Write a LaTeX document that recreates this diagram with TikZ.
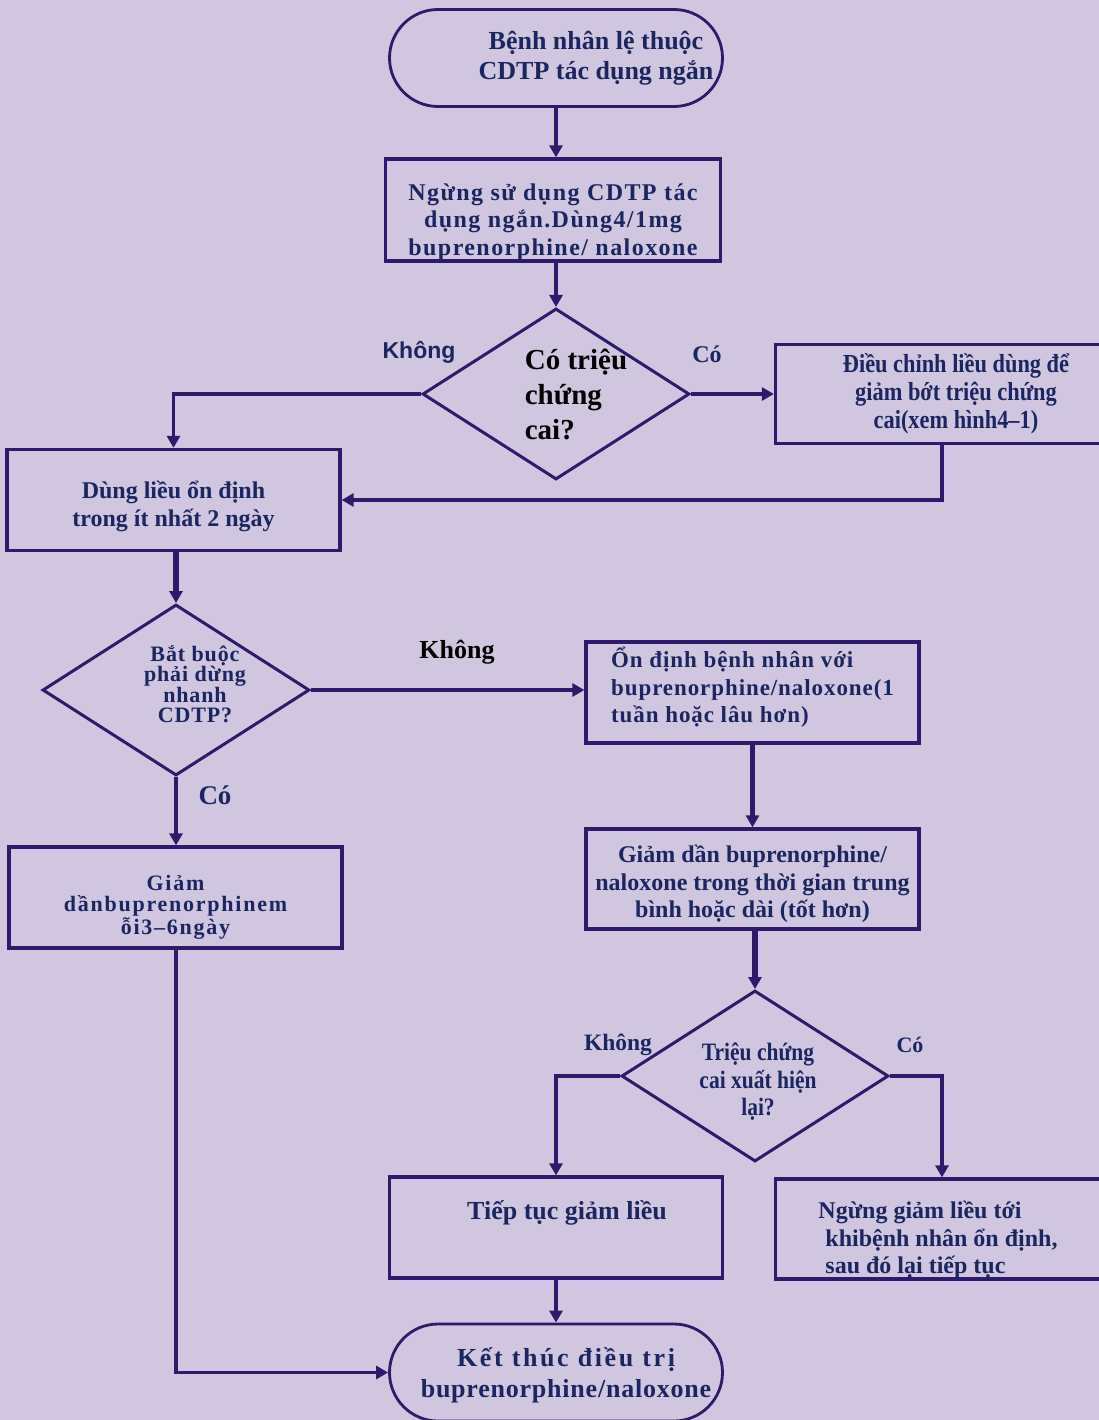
\documentclass[tikz,border=0pt]{standalone}
\usepackage{fontspec}
\setmainfont{Liberation Serif}
\newfontfamily\narrowfont[FakeStretch=0.86]{Liberation Serif}
\newfontfamily\labelsans{Liberation Sans}
\usepackage{xcolor}
\usetikzlibrary{shapes.geometric, shapes.misc, arrows.meta, positioning, calc}

\definecolor{bgpurple}{HTML}{D0C6DF}
\definecolor{linepurple}{HTML}{2E1A6A}
\definecolor{navytext}{HTML}{1B2660}

\begin{document}
\begin{tikzpicture}[
    x=1pt, y=-1pt,
    box/.style={draw=linepurple, line width=3.3pt, rectangle, minimum width=333pt, minimum height=101pt, inner sep=0pt, text=navytext, align=center},
    term/.style={draw=linepurple, line width=2.8pt, rounded rectangle, minimum width=333pt, minimum height=97pt, inner sep=0pt},
    decision/.style={draw=linepurple, line width=3pt, diamond, aspect=1.56, minimum width=267pt, minimum height=171pt, inner sep=0pt},
    arrow/.style={-{Triangle[length=12pt,width=13pt]}, draw=linepurple, line width=3.3pt},
    thickarrow/.style={arrow, line width=5.5pt},
    tag/.style={text=navytext, align=center, inner sep=0pt}
]
    % background and page size
    \useasboundingbox (0,0) rectangle (1099,1420);
    \fill[bgpurple] (0,0) rectangle (1099,1420);

    % Start
    \node[term, label={[tag, font=\bfseries\fontsize{26}{30}\selectfont, xshift=40pt]center:Bệnh nhân lệ thuộc\\CDTP tác dụng ngắn}] (start) at (556,58) {};

    % Stop short acting
    \node[box, minimum width=335pt, minimum height=102pt, label={[tag, font=\bfseries\fontsize{24}{27.5}\selectfont\addfontfeature{LetterSpace=6}, yshift=-12pt]center:Ngừng sử dụng CDTP tác\\dụng ngắn.Dùng4/1mg\\buprenorphine/ naloxone}] (stopsa) at (553,210) {};

    % Withdrawal?
    \node[decision, label={[tag, text=black, align=left, font=\bfseries\fontsize{29}{35}\selectfont, xshift=20pt]center:Có triệu\\chứng\\cai?}] (qwith) at (556,394) {};

    \node[box, minimum height=99pt, label={[tag, font=\narrowfont\bfseries\fontsize{26}{28}\selectfont, xshift=14pt, yshift=0pt]center:Điều chỉnh liều dùng để\\giảm bớt triệu chứng\\cai(xem hình4–1)}] (adjust) at (942,394) {};

    \node[box, label={[tag, font=\bfseries\fontsize{24}{28}\selectfont, yshift=-6pt]center:Dùng liều ổn định\\trong ít nhất 2 ngày}] (dose) at (173.5,500) {};

    % Fast taper?
    \node[decision, label={[tag, font=\bfseries\fontsize{22}{19.5}\selectfont\addfontfeature{LetterSpace=4}, xshift=19pt, yshift=6pt]center:Bắt buộc\\phải dừng\\nhanh\\CDTP?}] (qfast) at (176,690) {};

    \node[box, label={[tag, align=left, font=\bfseries\fontsize{23}{27.5}\selectfont\addfontfeature{LetterSpace=4}, yshift=5pt]center:Ổn định bệnh nhân với\\buprenorphine/naloxone(1\\tuần hoặc lâu hơn)}] (stable) at (752.5,692.5) {};

    \node[box, label={[tag, font=\bfseries\fontsize{22}{21}\selectfont\addfontfeature{LetterSpace=8}, yshift=-10pt]center:Giảm\\dầnbuprenorphinem\\ỗi3–6ngày}] (fasttaper) at (175.5,897.5) {};

    \node[box, minimum height=100pt, label={[tag, font=\bfseries\fontsize{24}{27.5}\selectfont, yshift=-5pt]center:Giảm dần buprenorphine/\\naloxone trong thời gian trung\\bình hoặc dài (tốt hơn)}] (slowtaper) at (752.5,879) {};

    % Symptoms return?
    \node[decision, label={[tag, font=\narrowfont\bfseries\fontsize{25}{27.5}\selectfont, xshift=3pt, yshift=-6pt]center:Triệu chứng\\cai xuất hiện\\lại?}] (qback) at (755,1076) {};

    \node[box, label={[tag, font=\bfseries\fontsize{26}{30}\selectfont, xshift=11pt, yshift=15pt]center:Tiếp tục giảm liều}] (cont) at (556,1227.5) {};

    \node[box, minimum height=100pt, label={[tag, align=left, font=\bfseries\fontsize{24}{27.5}\selectfont, xshift=-4pt, yshift=-11pt]center:Ngừng giảm liều tới\\\hspace*{7pt}khibệnh nhân ổn định,\\\hspace*{7pt}sau đó lại tiếp tục}] (hold) at (942,1229) {};

    % End
    \node[term, label={[tag, font=\bfseries\fontsize{26}{31}\selectfont, xshift=10pt, yshift=-3pt]center:{\addfontfeature{LetterSpace=10}Kết thúc điều trị}\\{\addfontfeature{LetterSpace=3}buprenorphine/naloxone}}] (finish) at (556,1372.5) {};

    % branch labels
    \node[tag, font=\labelsans\bfseries\fontsize{23}{27}\selectfont] (no1) at (419,352) {Không};
    \node[tag, font=\bfseries\fontsize{24}{27}\selectfont] (yes1) at (707,354) {Có};
    \node[tag, text=black, font=\bfseries\fontsize{26}{28}\selectfont] (no2) at (457,652) {Không};
    \node[tag, font=\bfseries\fontsize{27}{28}\selectfont] (yes2) at (215,795) {Có};
    \node[tag, font=\bfseries\fontsize{23.5}{27}\selectfont] (no3) at (618,1045) {Không};
    \node[tag, font=\bfseries\fontsize{22}{27}\selectfont] (yes3) at (910,1045) {Có};

    % Connectors
    \draw[arrow] (start.south) -- (start.south |- stopsa.north);
    \draw[arrow] (stopsa.south -| qwith.north) -- (qwith.north);
    \draw[arrow] (qwith.east) -- (qwith.east -| adjust.west);
    \draw[arrow] (qwith.west) -| (dose.north);
    \draw[arrow] (adjust.south) |- (dose.east);
    \draw[thickarrow] (dose.south -| qfast.north) -- (qfast.north);
    \draw[arrow] (qfast.east) -- (qfast.east -| stable.west);
    \draw[arrow] (qfast.south) -- (qfast.south |- fasttaper.north);
    \draw[thickarrow] (stable.south) -- (slowtaper.north);
    \draw[thickarrow] (slowtaper.south -| qback.north) -- (qback.north);
    \draw[arrow] (qback.west) -| (cont.north);
    \draw[arrow] (qback.east) -| (hold.north);
    \draw[arrow] (cont.south) -- (finish.north);
    \draw[arrow] (fasttaper.south -| qfast.south) |- (finish.west);

\end{tikzpicture}
\end{document}
